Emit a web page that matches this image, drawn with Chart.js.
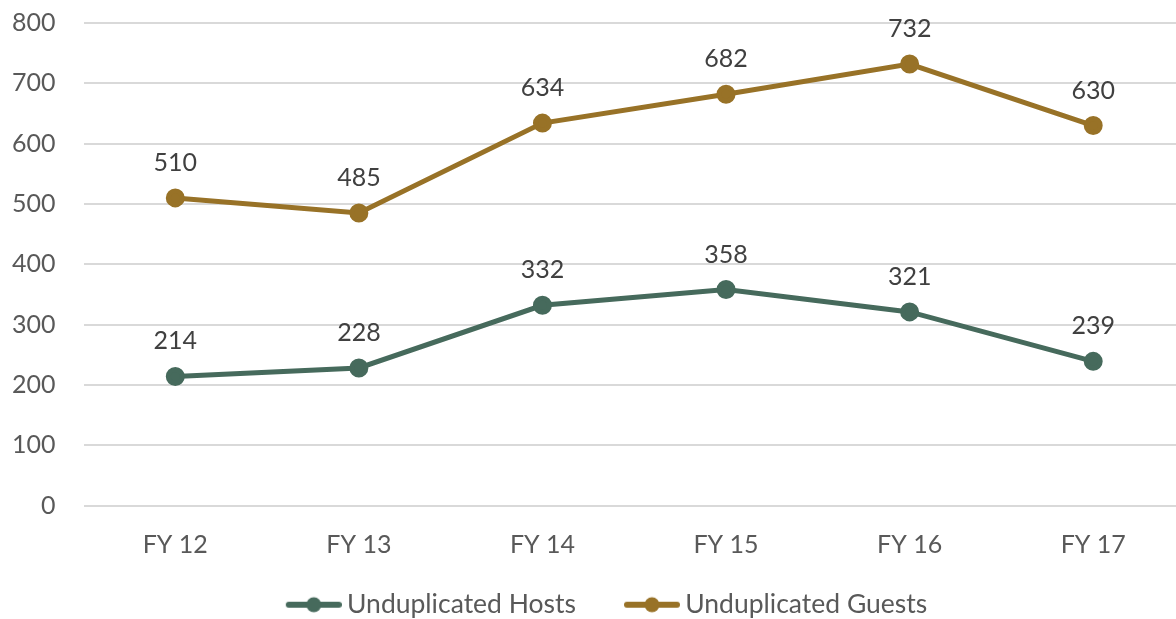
<!DOCTYPE html>
<html>
<head>
<meta charset="utf-8">
<script src="https://cdn.jsdelivr.net/npm/chart.js@4.4.1/dist/chart.umd.min.js"></script>
<style>
  html, body { margin: 0; padding: 0; background: #fff; overflow: hidden; }
  /* plot runs slightly past the right edge of the window */
  #wrap { width: 1197px; height: 619px; }
</style>
</head>
<body>
<div id="wrap"><canvas id="trendChart"></canvas></div>
<script>
const years = ['FY 12', 'FY 13', 'FY 14', 'FY 15', 'FY 16', 'FY 17'];
const hosts = [214, 228, 332, 358, 321, 239];
const guests = [510, 485, 634, 682, 732, 630];
const yTicks = [0, 100, 200, 300, 400, 500, 600, 700, 800];

const hostColor = '#466a5c';
const guestColor = '#987227';
const textColor = '#595959';
const fontFamily = "Lato, 'Open Sans', sans-serif";

// line-with-dot swatch for the legend, drawn off-centre so it sits
// close to the label text
function makeSwatch(color) {
    const c = document.createElement('canvas');
    c.width = 80; c.height = 20;
    const g = c.getContext('2d');
    g.strokeStyle = color;
    g.lineWidth = 6;
    g.lineCap = 'round';
    g.beginPath();
    g.moveTo(27, 10);
    g.lineTo(77, 10);
    g.stroke();
    g.fillStyle = color;
    g.beginPath();
    g.arc(52, 10, 7.5, 0, Math.PI * 2);
    g.fill();
    return c;
}

// value labels above each point
const valueLabels = {
    id: 'valueLabels',
    afterDatasetsDraw(chart) {
        const ctx = chart.ctx;
        ctx.save();
        ctx.font = '25px ' + fontFamily;
        ctx.fillStyle = '#404040';
        ctx.textAlign = 'center';
        ctx.textBaseline = 'middle';
        chart.data.datasets.forEach((ds, i) => {
            chart.getDatasetMeta(i).data.forEach((pt, j) => {
                ctx.fillText(ds.data[j], pt.x, pt.y - 35);
            });
        });
        ctx.restore();
    }
};

const ctx = document.getElementById('trendChart').getContext('2d');
new Chart(ctx, {
    type: 'line',
    data: {
        labels: years,
        datasets: [{
            label: 'Unduplicated Hosts',
            data: hosts,
            borderColor: hostColor,
            backgroundColor: hostColor,
            borderWidth: 5,
            pointRadius: 7,
            pointHoverRadius: 7,
            fill: false,
            tension: 0
        }, {
            label: 'Unduplicated Guests',
            data: guests,
            borderColor: guestColor,
            backgroundColor: guestColor,
            borderWidth: 5,
            pointRadius: 7,
            pointHoverRadius: 7,
            fill: false,
            tension: 0
        }]
    },
    plugins: [valueLabels],
    options: {
        responsive: true,
        maintainAspectRatio: false,
        animation: false,
        layout: { autoPadding: false, padding: { top: 23, left: 12, right: 12, bottom: -9 } },
        plugins: {
            tooltip: { enabled: false },
            legend: {
                position: 'bottom',
                labels: {
                    usePointStyle: true,
                    pointStyleWidth: 64,
                    color: textColor,
                    font: { size: 26.5, family: fontFamily },
                    padding: 32,
                    generateLabels(chart) {
                        return chart.data.datasets.map((ds, i) => ({
                            text: ds.label,
                            fillStyle: ds.borderColor,
                            strokeStyle: ds.borderColor,
                            fontColor: textColor,
                            pointStyle: makeSwatch(ds.borderColor),
                            hidden: false,
                            datasetIndex: i
                        }));
                    }
                }
            }
        },
        scales: {
            x: {
                offset: true,
                grid: { display: false, drawTicks: true, tickLength: 24, tickColor: 'rgba(0,0,0,0)' },
                border: { display: false },
                ticks: {
                    color: textColor,
                    font: { size: 25, family: fontFamily },
                    padding: 0
                }
            },
            y: {
                min: 0,
                max: 800,
                afterBuildTicks(axis) {
                    axis.ticks = yTicks.map(v => ({ value: v }));
                },
                grid: { color: '#d9d9d9', lineWidth: 2, drawTicks: true, tickLength: 28, tickColor: 'rgba(0,0,0,0)' },
                border: { display: false },
                ticks: {
                    color: textColor,
                    font: { size: 25, family: fontFamily },
                    padding: 0
                }
            }
        }
    }
});
</script>
</body>
</html>
